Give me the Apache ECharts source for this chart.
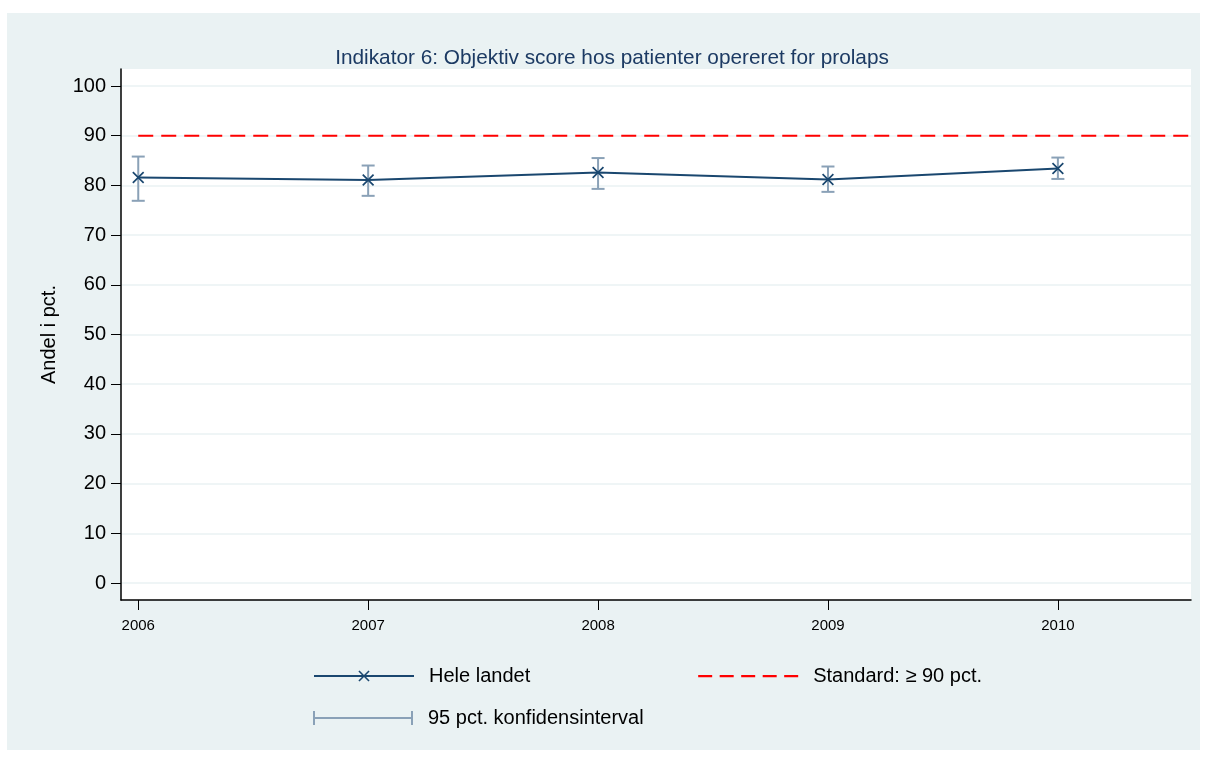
<!DOCTYPE html>
<html>
<head>
<meta charset="utf-8">
<script src="https://cdn.jsdelivr.net/npm/echarts@6/dist/echarts.min.js"></script>
<style>
  html, body { margin: 0; padding: 0; background: #ffffff; }
  #chart { width: 1207px; height: 758px; }
</style>
</head>
<body>
<div id="chart"></div>
<script>
// ---- data ----
const years = [2006, 2007, 2008, 2009, 2010];
const heleLandet = [81.6, 81.1, 82.6, 81.2, 83.4];
const ciLow = [76.9, 77.9, 79.3, 78.7, 81.3];
const ciHigh = [85.8, 84.0, 85.5, 83.8, 85.6];
const standardValue = 90;
const yTicks = [0, 10, 20, 30, 40, 50, 60, 70, 80, 90, 100];
const xTicks = [2006, 2007, 2008, 2009, 2010];

const titleText = 'Indikator 6: Objektiv score hos patienter opereret for prolaps';
const yAxisTitle = 'Andel i pct.';
const nameHele = 'Hele landet';
const nameStd = 'Standard: \u2265 90 pct.';
const nameCI = '95 pct. konfidensinterval';

// ---- styling ----
const FONT = '"Liberation Sans", Arial, sans-serif';
const NAVY = '#1a476f';
const CI_COLOR = '#8aa1b7';
const PANEL = '#eaf2f3';
const xMin = 2005.925, xMax = 2010.579;
const yMin = -3.42, yMax = 103.42;

const DASH_ICON = 'path://M0,0 L0.01,0 L0,0.01 Z M0,14 L0.01,14 L0,13.99 Z ' +
  'M0,6 H14 V8.2 H0 Z M21.5,6 H35.5 V8.2 H21.5 Z M43,6 H57 V8.2 H43 Z M64.5,6 H78.5 V8.2 H64.5 Z M86,6 H100 V8.2 H86 Z';
const CI_ICON = 'path://M0,0 H2 V14 H0 Z M0,6 H100 V8 H0 Z M98,0 H100 V14 H98 Z';

const chart = echarts.init(document.getElementById('chart'));

const option = {
  animation: false,
  backgroundColor: '#ffffff',
  textStyle: { fontFamily: FONT },
  graphic: [
    { type: 'rect', z: -100, silent: true,
      shape: { x: 7, y: 13, width: 1193, height: 737 },
      style: { fill: PANEL } }
  ],
  title: {
    text: titleText,
    left: 607, top: 43, textAlign: 'center',
    textStyle: { fontFamily: FONT, fontSize: 20.8, fontWeight: 'normal', color: '#1c3a63' }
  },
  grid: {
    left: 121, right: 16, top: 69, bottom: 158,
    show: true, backgroundColor: '#ffffff', borderWidth: 0
  },
  xAxis: {
    type: 'value', min: xMin, max: xMax,
    axisLine: { show: true, onZero: false, lineStyle: { color: '#000', width: 1.5 } },
    axisTick: { show: true, customValues: xTicks, length: 10, lineStyle: { color: '#000', width: 1 } },
    axisLabel: { customValues: xTicks, margin: 18, fontSize: 15, color: '#000', fontFamily: FONT,
      formatter: v => String(v) },
    splitLine: { show: false }
  },
  yAxis: {
    type: 'value', min: yMin, max: yMax,
    name: yAxisTitle, nameLocation: 'middle', nameGap: 62, nameRotate: 90,
    nameTextStyle: { fontSize: 20, color: '#000', fontFamily: FONT },
    axisLine: { show: true, onZero: false, lineStyle: { color: '#000', width: 1.5 } },
    axisTick: { show: true, customValues: yTicks, length: 10, lineStyle: { color: '#000', width: 1 } },
    axisLabel: { customValues: yTicks, margin: 15, fontSize: 20, color: '#000', fontFamily: FONT },
    splitLine: { show: true, lineStyle: { color: PANEL, width: 1.5 } }
  },
  legend: [
    {
      data: [nameHele, { name: nameStd, icon: DASH_ICON, itemStyle: { color: '#ff0000' } }],
      left: 308, top: 661,
      itemWidth: 100, itemHeight: 14, itemGap: 168,
      textStyle: { fontSize: 20, color: '#000', fontFamily: FONT, padding: [0, 0, 0, 10] },
      selectedMode: false
    },
    {
      data: [{ name: nameCI, icon: CI_ICON }],
      left: 308, top: 703,
      itemWidth: 100, itemHeight: 14,
      textStyle: { fontSize: 20, color: '#000', fontFamily: FONT, padding: [0, 0, 0, 10] },
      selectedMode: false
    }
  ],
  series: [
    {
      name: nameCI,
      type: 'custom',
      z: 2,
      itemStyle: { color: CI_COLOR },
      data: years.map((y, i) => [y, ciLow[i], ciHigh[i]]),
      encode: { x: 0, y: [1, 2] },
      renderItem: function (params, api) {
        const x = api.value(0);
        const pLo = api.coord([x, api.value(1)]);
        const pHi = api.coord([x, api.value(2)]);
        const w = 6.5;
        const st = { stroke: CI_COLOR, lineWidth: 2 };
        return {
          type: 'group',
          children: [
            { type: 'line', shape: { x1: pHi[0], y1: pHi[1], x2: pLo[0], y2: pLo[1] }, style: st },
            { type: 'line', shape: { x1: pHi[0] - w, y1: pHi[1], x2: pHi[0] + w, y2: pHi[1] }, style: st },
            { type: 'line', shape: { x1: pLo[0] - w, y1: pLo[1], x2: pLo[0] + w, y2: pLo[1] }, style: st }
          ]
        };
      }
    },
    {
      name: nameStd,
      type: 'line',
      z: 3,
      symbol: 'none',
      color: '#ff0000',
      lineStyle: { color: '#ff0000', width: 2, type: [15, 8] },
      data: [[years[0], standardValue], [xMax, standardValue]]
    },
    {
      name: nameHele,
      type: 'line',
      z: 4,
      color: NAVY,
      symbol: 'path://M1,0 L5,4 L9,0 L10,1 L6,5 L10,9 L9,10 L5,6 L1,10 L0,9 L4,5 L0,1 Z',
      symbolSize: 12,
      showAllSymbol: true,
      itemStyle: { color: NAVY },
      lineStyle: { color: NAVY, width: 2 },
      data: years.map((y, i) => [y, heleLandet[i]])
    }
  ]
};

chart.setOption(option);
</script>
</body>
</html>
